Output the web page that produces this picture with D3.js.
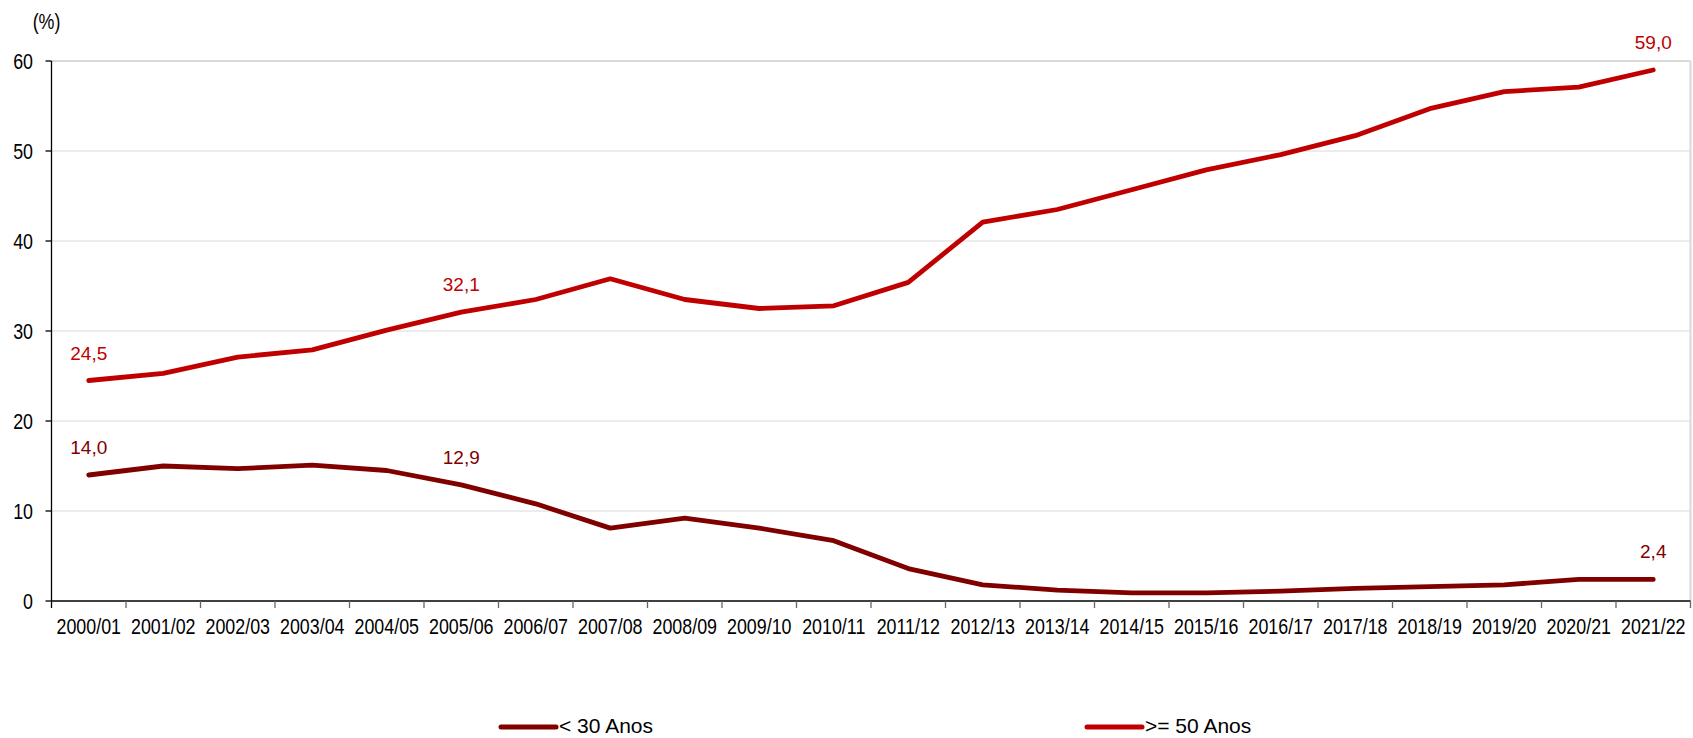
<!DOCTYPE html>
<html>
<head>
<meta charset="utf-8">
<script src="https://cdn.jsdelivr.net/npm/d3@7"></script>
<style>
  html, body { margin: 0; padding: 0; background: #fff; }
  svg { display: block; }
</style>
</head>
<body>
<svg id="chart" width="1693" height="738"></svg>
<script>
const categories = ["2000/01","2001/02","2002/03","2003/04","2004/05","2005/06","2006/07","2007/08","2008/09","2009/10","2010/11","2011/12","2012/13","2013/14","2014/15","2015/16","2016/17","2017/18","2018/19","2019/20","2020/21","2021/22"];
const under30 = [14.0,15.0,14.7,15.1,14.5,12.9,10.8,8.1,9.2,8.1,6.7,3.6,1.8,1.2,0.9,0.9,1.1,1.4,1.6,1.8,2.4,2.4];
const over50 = [24.5,25.3,27.1,27.9,30.1,32.1,33.5,35.8,33.5,32.5,32.8,35.4,42.1,43.5,45.7,47.9,49.6,51.7,54.7,56.6,57.1,59.0];
const yTicks = [0,10,20,30,40,50,60];
const seriesNames = ["< 30 Anos", ">= 50 Anos"];
const labelIdx = [0, 5, 21];

(function () {
const colors = ["#800000", "#C00000"];
const font = "'Liberation Sans', Arial, sans-serif";
const squeeze = 0.83;

const svg = d3.select("#chart");
const pL = 51.5, pR = 1690.5, pT = 61, pB = 601;

const x = d3.scaleBand().domain(categories).range([pL, pR]).padding(0);
const y = d3.scaleLinear().domain([0, 60]).range([pB, pT]);
const bw = x.bandwidth();
const cx = c => x(c) + bw / 2;

// gridlines
svg.append("g").selectAll("line").data(yTicks.filter(t => t > 0)).join("line")
  .attr("x1", pL).attr("x2", pR)
  .attr("y1", d => y(d)).attr("y2", d => y(d))
  .attr("stroke", "#d9d9d9").attr("stroke-width", d => d === 60 ? 2 : 1.2);

// right frame
svg.append("line").attr("x1", pR).attr("x2", pR).attr("y1", y(60)).attr("y2", pB)
  .attr("stroke", "#d9d9d9").attr("stroke-width", 2);

// y axis
svg.append("line").attr("x1", pL).attr("x2", pL).attr("y1", y(60)).attr("y2", pB)
  .attr("stroke", "#000").attr("stroke-width", 1.3);
svg.append("g").selectAll("line").data(yTicks).join("line")
  .attr("x1", pL - 6).attr("x2", pL).attr("y1", d => y(d)).attr("y2", d => y(d))
  .attr("stroke", "#000").attr("stroke-width", 1.3);
svg.append("g").selectAll("text").data(yTicks).join("text")
  .attr("transform", d => `translate(33,${y(d)}) scale(${squeeze},1)`)
  .attr("dy", "0.36em")
  .attr("text-anchor", "end").attr("font-family", font).attr("font-size", 21.5)
  .attr("fill", "#000").text(d => d);
svg.append("text").attr("transform", `translate(46.5,28.5) scale(${squeeze},1)`)
  .attr("text-anchor", "middle")
  .attr("font-family", font).attr("font-size", 21.5).attr("fill", "#000").text("(%)");

// x axis
svg.append("line").attr("x1", pL).attr("x2", pR).attr("y1", pB).attr("y2", pB)
  .attr("stroke", "#000").attr("stroke-width", 1.3);
const bounds = categories.map(c => x(c)).concat([x(categories[categories.length - 1]) + bw]);
svg.append("g").selectAll("line").data(bounds).join("line")
  .attr("x1", d => d).attr("x2", d => d).attr("y1", pB).attr("y2", pB + 7)
  .attr("stroke", (d, i) => i === 0 ? "#000" : "#666").attr("stroke-width", 1.3);
svg.append("g").selectAll("text").data(categories).join("text")
  .attr("transform", d => `translate(${cx(d)},634) scale(${squeeze},1)`)
  .attr("text-anchor", "middle")
  .attr("font-family", font).attr("font-size", 21.5).attr("fill", "#000").text(d => d);

// lines
const line = d3.line().x((d, i) => cx(categories[i])).y(d => y(d));
[under30, over50].forEach((s, k) => {
  svg.append("path").datum(s).attr("d", line)
    .attr("fill", "none").attr("stroke", colors[k]).attr("stroke-width", 4.8)
    .attr("stroke-linejoin", "round").attr("stroke-linecap", "round");
  svg.append("g").selectAll("text").data(labelIdx).join("text")
    .attr("x", i => cx(categories[i])).attr("y", i => y(s[i]) - 21)
    .attr("text-anchor", "middle").attr("font-family", font).attr("font-size", 19)
    .attr("fill", colors[k]).text(i => d3.format(".1f")(s[i]).replace(".", ","));
});

// legend
const legendX = [501, 1087];
seriesNames.forEach((n, k) => {
  svg.append("line").attr("x1", legendX[k]).attr("x2", legendX[k] + 55)
    .attr("y1", 727).attr("y2", 727)
    .attr("stroke", colors[k]).attr("stroke-width", 5).attr("stroke-linecap", "round");
  svg.append("text").attr("x", legendX[k] + 58).attr("y", 733)
    .attr("font-family", font).attr("font-size", 21).attr("fill", "#000").text(n);
});
})();
</script>
</body>
</html>
